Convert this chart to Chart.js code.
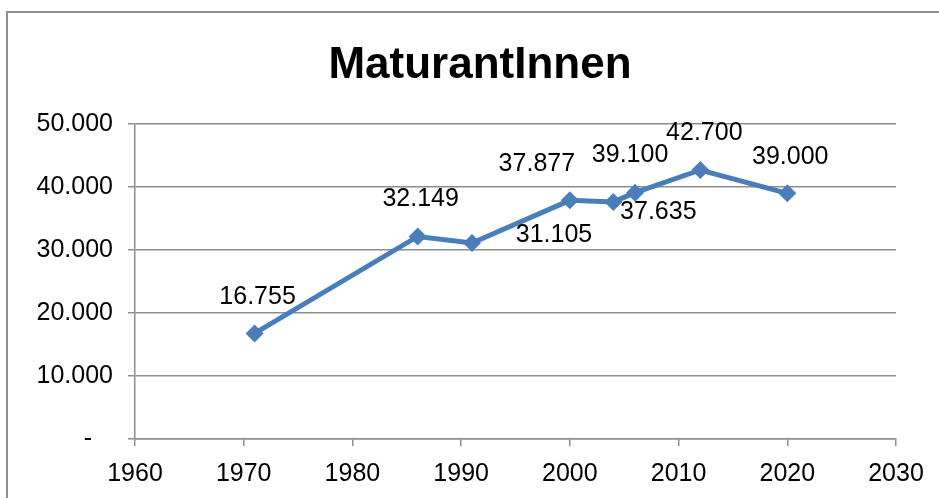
<!DOCTYPE html>
<html>
<head>
<meta charset="utf-8">
<script src="https://cdn.jsdelivr.net/npm/chart.js@4.4.1/dist/chart.umd.min.js"></script>
<style>
  html, body { margin: 0; padding: 0; background: #fff; }
  #wrap { width: 939px; height: 498px; }
</style>
</head>
<body>
<div id="wrap"><canvas id="c" width="939" height="498"></canvas></div>
<script>
// === Data ===
const chartTitle = "MaturantInnen";
const years = [1971, 1986, 1991, 2000, 2004, 2006, 2012, 2020];
const students = [16755, 32149, 31105, 37877, 37635, 39100, 42700, 39000];
const xTicks = [1960, 1970, 1980, 1990, 2000, 2010, 2020, 2030];
const yTicks = [0, 10000, 20000, 30000, 40000, 50000];

// label nudges (px), the labels were moved by hand in the original
const labelShift = [[3, -36], [3, -37], [82, -8], [-33, -36], [45, 10], [-5, -38], [4, -37], [3, -36]];

const FONT = "'Liberation Sans', Arial, sans-serif";
const BLUE = '#4a7ebb';
const GRID = '#8e8e8e';

// 12345 -> "12.345"
function fmt(v) {
  if (v === 0) return '-   ';
  return String(v).replace(/\B(?=(\d{3})+(?!\d))/g, '.');
}

// === Frame + title ===
const framePlugin = {
  id: 'frame',
  beforeDraw(chart) {
    const ctx = chart.ctx;
    ctx.save();
    ctx.fillStyle = '#fff';
    ctx.fillRect(0, 0, chart.width, chart.height);
    ctx.strokeStyle = '#8f8f8f';
    ctx.lineWidth = 2;
    ctx.strokeRect(7, 12, chart.width + 20, chart.height + 20);
    ctx.restore();
  },
  afterDraw(chart) {
    const ctx = chart.ctx;
    ctx.save();
    ctx.font = `bold 44px ${FONT}`;
    ctx.fillStyle = '#000';
    ctx.textAlign = 'center';
    ctx.textBaseline = 'alphabetic';
    ctx.fillText(chartTitle, 480, 78);
    ctx.restore();
  }
};

// === Value labels ===
const valueLabels = {
  id: 'valueLabels',
  afterDatasetsDraw(chart) {
    const ctx = chart.ctx;
    const meta = chart.getDatasetMeta(0);
    ctx.save();
    ctx.font = `25px ${FONT}`;
    ctx.fillStyle = '#000';
    ctx.textAlign = 'center';
    ctx.textBaseline = 'middle';
    meta.data.forEach((pt, i) => {
      const s = labelShift[i] || [0, -36];
      ctx.fillText(fmt(students[i]), pt.x + s[0], pt.y + s[1]);
    });
    ctx.restore();
  }
};

new Chart(document.getElementById('c'), {
  type: 'scatter',
  data: {
    datasets: [{
      data: years.map((y, i) => ({ x: y, y: students[i] })),
      showLine: true,
      borderColor: BLUE,
      backgroundColor: BLUE,
      borderWidth: 5,
      pointStyle: 'rectRot',
      pointRadius: 9,
      pointHoverRadius: 9,
      pointBorderWidth: 0
    }]
  },
  options: {
    responsive: false,
    animation: false,
    layout: { padding: { top: 124, left: 0, right: 43, bottom: 0 } },
    plugins: {
      legend: { display: false },
      tooltip: { enabled: false },
      title: { display: false }
    },
    scales: {
      x: {
        type: 'linear',
        min: 1960,
        max: 2030,
        afterBuildTicks(scale) { scale.ticks = xTicks.map(v => ({ value: v })); },
        afterFit(scale) { scale.height = 59; },
        grid: { drawOnChartArea: false, color: GRID, lineWidth: 1.5, tickLength: 7 },
        border: { color: GRID, width: 1.5 },
        ticks: {
          color: '#000',
          font: { family: FONT, size: 25 },
          padding: 13,
          maxRotation: 0,
          callback: v => String(v)
        }
      },
      y: {
        min: 0,
        max: 50000,
        afterBuildTicks(scale) { scale.ticks = yTicks.map(v => ({ value: v })); },
        afterFit(scale) { scale.width = 135; },
        grid: { color: GRID, lineWidth: 1.5, tickLength: 7 },
        border: { color: GRID, width: 1.5 },
        ticks: {
          color: '#000',
          font: { family: FONT, size: 25 },
          padding: 15,
          callback: v => fmt(v)
        }
      }
    }
  },
  plugins: [framePlugin, valueLabels]
});
</script>
</body>
</html>
